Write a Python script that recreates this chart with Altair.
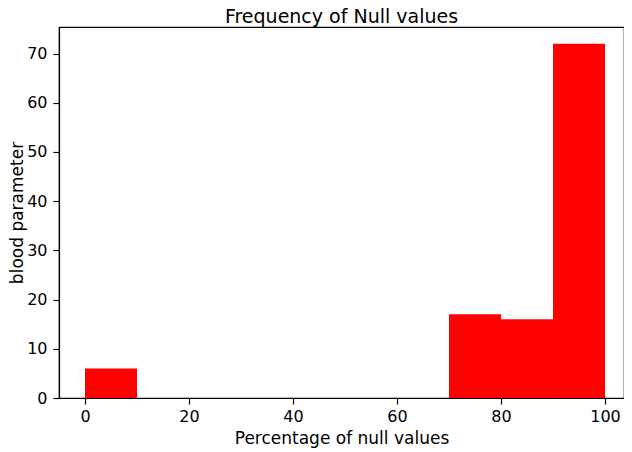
import altair as alt
import pandas as pd

bin_start = [0, 10, 20, 30, 40, 50, 60, 70, 80, 90]
bin_end = [10, 20, 30, 40, 50, 60, 70, 80, 90, 100]
counts = [6, 0, 0, 0, 0, 0, 0, 17, 16, 72]

df = pd.DataFrame({"start": bin_start, "end": bin_end, "count": counts, "base": [0] * 10})
df = df[df["count"] > 0]

FONT = "DejaVu Sans"

chart = alt.Chart(df).mark_bar(color="#ff0000", strokeWidth=0).encode(
    x=alt.X("start:Q",
            scale=alt.Scale(domain=[-5, 103.65], nice=False, zero=False),
            axis=alt.Axis(values=[0, 20, 40, 60, 80, 100], title="Percentage of null values",
                          grid=False, tickSize=6, labelFontSize=16, titleFontSize=17,
                          titleFontWeight="normal", labelPadding=4, titlePadding=6)),
    x2="end:Q",
    y=alt.Y("count:Q",
            scale=alt.Scale(domain=[0, 75.4], nice=False),
            axis=alt.Axis(values=[0, 10, 20, 30, 40, 50, 60, 70], title="blood parameter",
                          grid=False, tickSize=6, labelFontSize=16, titleFontSize=17,
                          titleFontWeight="normal", labelPadding=6, titlePadding=0)),
    y2="base:Q",
).properties(
    width=565,
    height=371,
    autosize="none",
    padding={"left": 51, "top": 19, "right": 0, "bottom": 54},
    title=alt.Title("Frequency of Null values", fontSize=19, fontWeight="normal",
                    font=FONT, color="black", offset=0),
).configure_axis(
    labelFont=FONT, titleFont=FONT, labelColor="black", titleColor="black",
    domainColor="black", tickColor="black", domainWidth=1.2, tickWidth=1.2,
).configure_view(
    stroke="black", strokeWidth=1.2
)

chart.save("out.html", embed_options={"renderer": "svg", "actions": False})
